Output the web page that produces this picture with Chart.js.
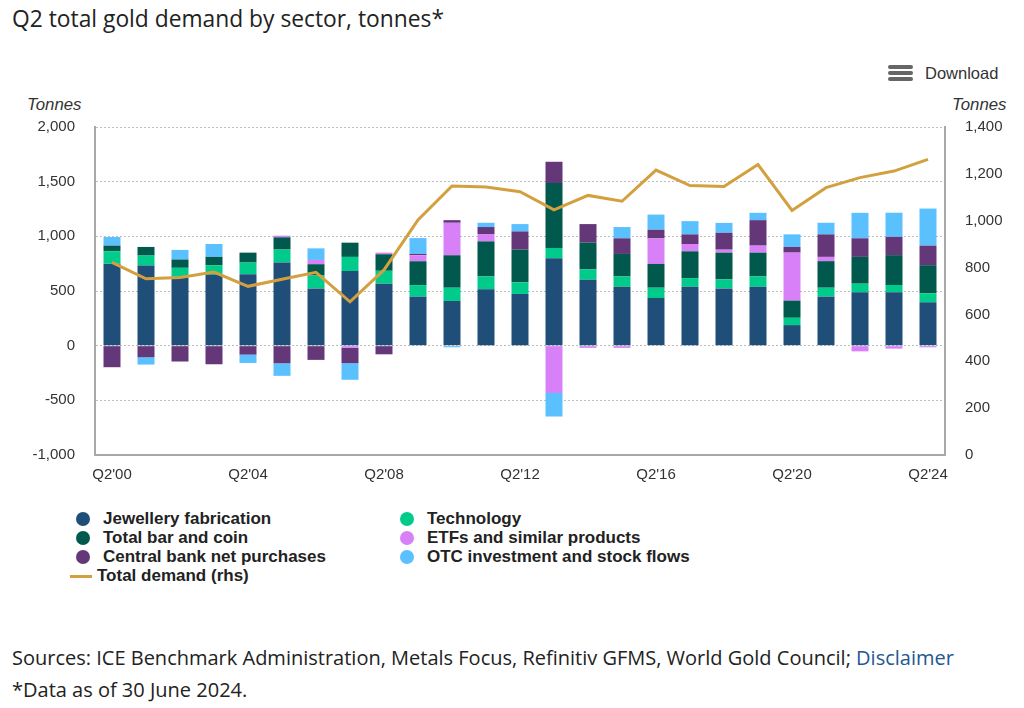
<!DOCTYPE html>
<html>
<head>
<meta charset="utf-8">
<script src="https://cdn.jsdelivr.net/npm/chart.js@4.4.1/dist/chart.umd.min.js"></script>
<style>
    body { margin: 0; background: #fff; width: 1024px; height: 708px; position: relative; overflow: hidden; font-family: "Liberation Sans", Arial, sans-serif; }
    .title { position: absolute; left: 12px; top: 3px; font-family: "Open Sans", "Noto Sans", sans-serif; font-size: 22.8px; color: #222; }
    .download { position: absolute; left: 888px; top: 63px; font-size: 16.5px; color: #333; display: flex; align-items: center; }
    .download .icon { width: 25px; margin-right: 12px; }
    .download .icon div { height: 4px; background: #666; border-radius: 2px; margin: 2px 0; }
    .unit { position: absolute; top: 95px; font-size: 16.8px; font-style: italic; color: #333; }
    #chart-wrap { position: absolute; left: 0; top: 95px; width: 1024px; height: 400px; }
    #legend { position: absolute; left: 76px; top: 510px; display: grid; grid-template-columns: 324px auto; row-gap: 1px; }
    .item { display: flex; align-items: center; height: 18px; font-size: 17px; font-weight: bold; color: #222; }
    .dot { width: 14px; height: 14px; border-radius: 50%; margin-right: 13px; }
    .dash { width: 22px; height: 3px; margin-right: 5px; }
    .notes { position: absolute; left: 12px; top: 642px; font-family: "Open Sans", "Noto Sans", sans-serif; font-size: 20px; color: #222; line-height: 32px; white-space: nowrap; }
    .notes a { color: #24578f; text-decoration: none; }
</style>
</head>
<body>
<div class="title">Q2 total gold demand by sector, tonnes*</div>
<div class="download"><div class="icon"><div></div><div></div><div></div></div>Download</div>
<div class="unit" style="left: 27px;">Tonnes</div>
<div class="unit" style="left: 952px;">Tonnes</div>
<div id="chart-wrap"><canvas id="goldChart"></canvas></div>
<div id="legend"></div>
<div class="notes">
    Sources: ICE Benchmark Administration, Metals Focus, Refinitiv GFMS, World Gold Council; <a>Disclaimer</a><br>
    *Data as of 30 June 2024.
</div>

<script>
// --- Data (tonnes) ---
const quarters = ["Q2'00", "Q2'01", "Q2'02", "Q2'03", "Q2'04", "Q2'05", "Q2'06", "Q2'07", "Q2'08", "Q2'09",
    "Q2'10", "Q2'11", "Q2'12", "Q2'13", "Q2'14", "Q2'15", "Q2'16", "Q2'17", "Q2'18", "Q2'19",
    "Q2'20", "Q2'21", "Q2'22", "Q2'23", "Q2'24"];

const jewellery = [748, 733, 621, 648, 654, 761, 524, 682, 567, 448, 409, 515, 473, 800, 603, 539, 436, 539, 524, 539, 188, 448, 488, 488, 397];
const technology = [116, 91, 91, 88, 106, 118, 118, 130, 118, 106, 121, 118, 106, 94, 94, 94, 94, 79, 82, 94, 67, 82, 79, 67, 82];
const barCoin = [51, 79, 76, 76, 91, 112, 103, 130, 151, 218, 297, 321, 300, 594, 245, 206, 218, 245, 245, 218, 157, 243, 245, 273, 257];
const etfs = [0, 0, 0, 0, 0, 15, 39, -18, 15, 55, 297, 67, 0, -433, -20, -20, 233, 67, 27, 64, 439, 39, -52, -27, -15];
const centralBank = [-197, -106, -145, -170, -82, -161, -130, -142, -79, 12, 24, 64, 166, 194, 170, 143, 79, 88, 154, 233, 52, 206, 170, 167, 179];
const otcFlows = [79, -67, 88, 118, -76, -115, 106, -152, 0, 145, -15, 39, 67, -215, 0, 103, 139, 121, 91, 67, 115, 106, 233, 221, 339];
const totalDemand = [822, 752, 758, 781, 720, 750, 780, 654, 790, 1003, 1148, 1144, 1124, 1046, 1108, 1083, 1216, 1150, 1146, 1240, 1044, 1141, 1184, 1212, 1262];

// Build datasets
function barSet(label, data, color) {
    return {
        type: 'bar',
        label: label,
        data: data,
        backgroundColor: color,
        borderWidth: 0,
        stack: 'demand',
        yAxisID: 'y',
        order: 1,
        barPercentage: 0.5,
        categoryPercentage: 1
    };
}

const datasets = [
    barSet('Jewellery fabrication', jewellery, '#1f4e79'),
    barSet('Technology', technology, '#00cb8a'),
    barSet('Total bar and coin', barCoin, '#00594c'),
    barSet('ETFs and similar products', etfs, '#d880f7'),
    barSet('Central bank net purchases', centralBank, '#643779'),
    barSet('OTC investment and stock flows', otcFlows, '#5bc0fe'),
    {
        type: 'line',
        label: 'Total demand (rhs)',
        data: totalDemand,
        borderColor: '#d3a03f',
        backgroundColor: '#d3a03f',
        borderWidth: 3,
        pointRadius: 0,
        tension: 0,
        yAxisID: 'y1',
        order: 0
    }
];

const tickFont = { family: '"Liberation Sans", Arial, sans-serif', size: 15 };

const goldChart = new Chart(document.getElementById('goldChart').getContext('2d'), {
    data: { labels: quarters, datasets: datasets },
    options: {
        responsive: true,
        maintainAspectRatio: false,
        animation: false,
        layout: { padding: { top: 32, left: 0, right: 0, bottom: 0 } },
        plugins: {
            legend: { display: false },
            tooltip: { enabled: false }
        },
        scales: {
            x: {
                stacked: true,
                grid: { display: false, drawTicks: false },
                border: { display: true, color: '#a8a8a8', width: 2 },
                ticks: {
                    autoSkip: false,
                    maxRotation: 0,
                    padding: 11,
                    color: '#333',
                    font: tickFont,
                    callback: (value, index) => index % 4 === 0 ? quarters[index] : ''
                },
                afterFit: scale => { scale.height = 40; }
            },
            y: {
                stacked: true,
                position: 'left',
                min: -1000,
                max: 2000,
                ticks: { stepSize: 500, padding: 20, color: '#333', font: tickFont },
                grid: { color: '#bdbdbd', lineWidth: 1, drawTicks: false },
                border: { display: true, color: '#a8a8a8', width: 2, dash: [2, 2] },
                afterFit: scale => { scale.width = 95; }
            },
            y1: {
                position: 'right',
                min: 0,
                max: 1400,
                ticks: { stepSize: 200, padding: 20, color: '#333', font: tickFont },
                grid: { display: false, drawTicks: false },
                border: { display: true, color: '#a8a8a8', width: 2 },
                afterFit: scale => { scale.width = 79; }
            }
        }
    }
});

// HTML legend, two columns like the original
const legendEl = document.getElementById('legend');
goldChart.data.datasets.forEach(ds => {
    const item = document.createElement('div');
    item.className = 'item';
    const mark = document.createElement('span');
    mark.className = ds.type === 'line' ? 'dash' : 'dot';
    mark.style.background = ds.backgroundColor;
    if (ds.type === 'line') item.style.marginLeft = '-6px';
    item.appendChild(mark);
    item.appendChild(document.createTextNode(ds.label));
    legendEl.appendChild(item);
});
</script>
</body>
</html>
